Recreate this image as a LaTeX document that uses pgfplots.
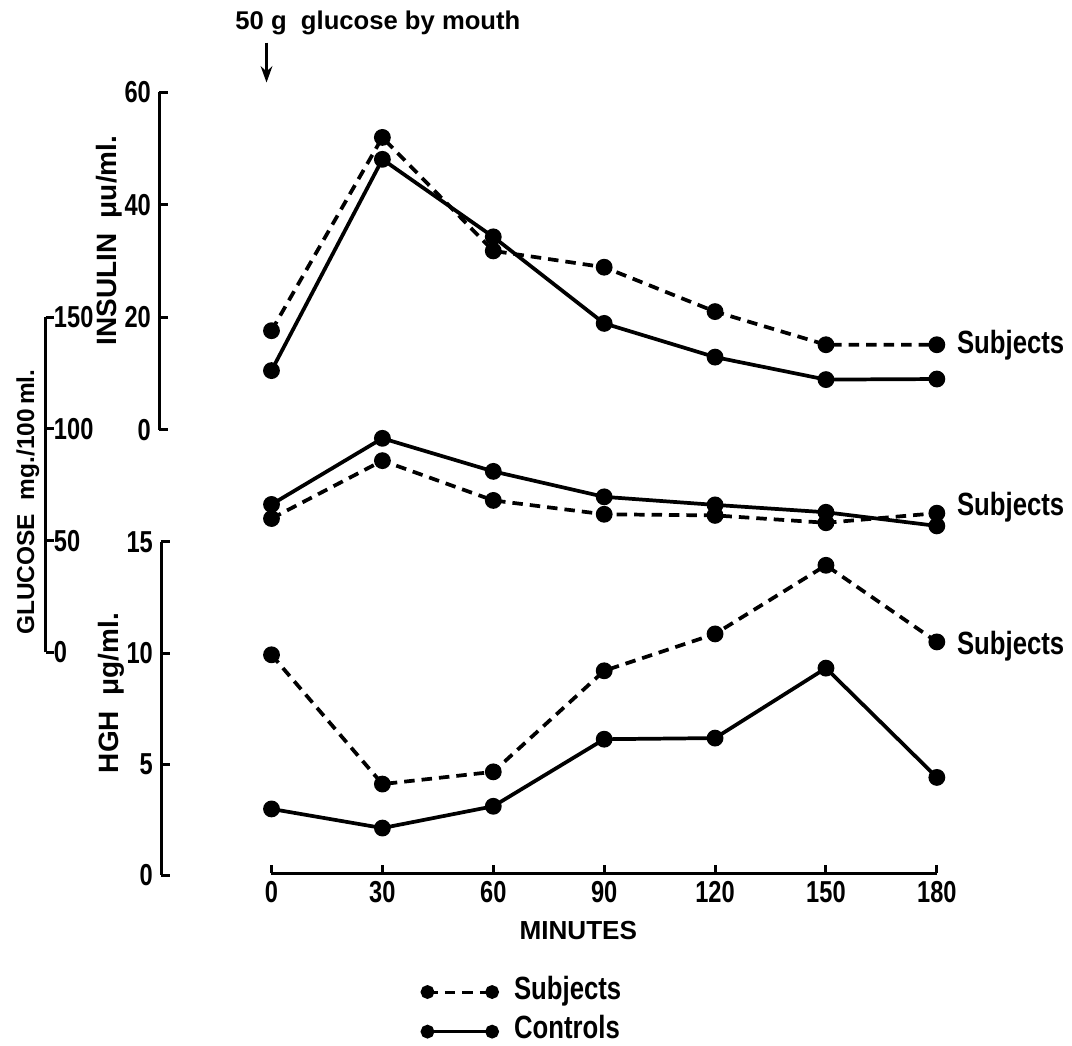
\documentclass[border=0pt]{standalone}
\usepackage{pgfplots}
\pgfplotsset{compat=1.18}
\usepackage{fontspec}
\setmainfont{Liberation Sans}
\newfontfamily\cond[FakeStretch=0.78]{Liberation Sans}
\newfontfamily\condb[FakeStretch=0.8]{Liberation Sans}
\usetikzlibrary{arrows.meta}

\def\u{0.015cm}

\pgfplotsset{
  panel/.style={
    anchor=south west, scale only axis, clip=false,
    axis x line=none, axis y line*=left,
    tick align=inside, major tick length=0.13cm,
    axis line style={line width=1.3pt},
    every tick/.style={black, line width=1.3pt},
    ticklabel style={font=\cond\bfseries\fontsize{13}{13}\selectfont},
    /pgf/number format/assume math mode=true,
    every axis plot/.append style={black, line width=1.6pt, mark=*,
      mark size=2.8pt, mark options={solid}},
  },
}
\tikzset{
  subj/.style={dash pattern=on 4.5pt off 3pt},
  ctrl/.style={solid},
  rlab/.style={anchor=west, xshift=0.18cm, font=\condb\bfseries\fontsize{13.8}{13.8}\selectfont},
}

\begin{document}
\begin{tikzpicture}
\path (0,0) rectangle (1072*\u,1042*\u);

% insulin
\begin{axis}[panel, at={(160*\u,610*\u)}, width=11.73cm, height=5.085cm,
  xmin=-30.4, xmax=180, ymin=0, ymax=60, ytick={0,20,40,60}]
\addplot[subj] coordinates {(0,17.6) (30,52.0) (60,31.8) (90,28.9) (120,21.0) (150,15.1) (180,15.1)};
\addplot[ctrl] coordinates {(0,10.5) (30,48.1) (60,34.3) (90,18.9) (120,12.9) (150,8.9) (180,9.0)};
\node[rlab] at (axis cs:180,15.1) {Subjects};
\end{axis}

% glucose
\begin{axis}[panel, at={(46*\u,386*\u)}, width=13.44cm, height=5.055cm,
  xmin=-61.08, xmax=180, ymin=0, ymax=150, ytick={0,50,100,150},
  yticklabel style={anchor=west}]
\addplot[ctrl] coordinates {(0,66.2) (30,95.8) (60,81.0) (90,69.6) (120,66.0) (150,62.7) (180,56.6)};
\addplot[subj] coordinates {(0,59.9) (30,85.8) (60,68.0) (90,61.8) (120,61.3) (150,58.0) (180,62.3)};
\node[rlab, yshift=0.09cm] at (axis cs:180,62.3) {Subjects};
\end{axis}

% growth hormone
\begin{axis}[panel, at={(162*\u,162*\u)}, width=11.7cm, height=5.025cm,
  xmin=-29.87, xmax=180, ymin=0, ymax=15, ytick={0,5,10,15}]
\addplot[subj] coordinates {(0,9.92) (30,4.1) (60,4.65) (90,9.2) (120,10.86) (150,13.95) (180,10.5)};
\addplot[ctrl] coordinates {(0,2.98) (30,2.12) (60,3.1) (90,6.12) (120,6.17) (150,9.32) (180,4.4)};
\node[rlab, yshift=-0.07cm] at (axis cs:180,10.5) {Subjects};
\end{axis}

% time axis and legend
\begin{axis}[anchor=south west, at={(273*\u,164*\u)}, scale only axis,
  width=10.035cm, height=1cm, xmin=0, xmax=180, ymin=0, ymax=1,
  axis x line*=bottom, axis y line=none,
  xtick={0,30,60,90,120,150,180}, tick align=inside, major tick length=0.13cm,
  axis line style={line width=1.3pt},
  every tick/.style={black, line width=1.3pt},
  ticklabel style={font=\cond\bfseries\fontsize{13}{13}\selectfont},
  /pgf/number format/assume math mode=true,
  xlabel={MINUTES},
  xlabel style={font=\bfseries\fontsize{11.2}{11.2}\selectfont, xshift=-0.39cm, yshift=-0.03cm},
  legend style={at={(0.2257,-1.575)}, anchor=north west, draw=none, fill=none,
    inner sep=0pt, row sep=5pt, column sep=0.25cm,
    nodes={inner sep=0pt, text height=9pt, text depth=3pt,
      font=\condb\bfseries\fontsize{13.8}{13.8}\selectfont}},
  legend cell align=left,
  legend image code/.code={\draw[mark repeat=2, mark phase=1, #1]
    plot coordinates {(0cm,0cm) (0.4875cm,0cm) (0.975cm,0cm)};}]
\addlegendimage{black, line width=1.3pt, mark=*, mark size=2.3pt, mark options={solid}, subj}
\addlegendentry{Subjects}
\addlegendimage{black, line width=1.3pt, mark=*, mark size=2.3pt, mark options={solid}, ctrl}
\addlegendentry{Controls}
\end{axis}

% axis titles and note
\node[rotate=90, font=\bfseries\fontsize{12}{12}\selectfont] at (110*\u,800*\u) {INSULIN\ \ μu/ml.};
\node[rotate=90, font=\bfseries\fontsize{10.5}{10.5}\selectfont] at (28*\u,537*\u) {GLUCOSE\ \ mg./100\,ml.};
\node[rotate=90, font=\bfseries\fontsize{12}{12}\selectfont] at (112*\u,345*\u) {HGH\ \ μg/ml.};
\node[font=\bfseries\fontsize{11}{11}\selectfont] at (380*\u,1019*\u) {50 g\ \ glucose\ by mouth};
\draw[line width=1.1pt, -{Stealth[length=7pt, width=5pt]}] (268*\u,999*\u) -- (268*\u,959*\u);
\end{tikzpicture}
\end{document}
